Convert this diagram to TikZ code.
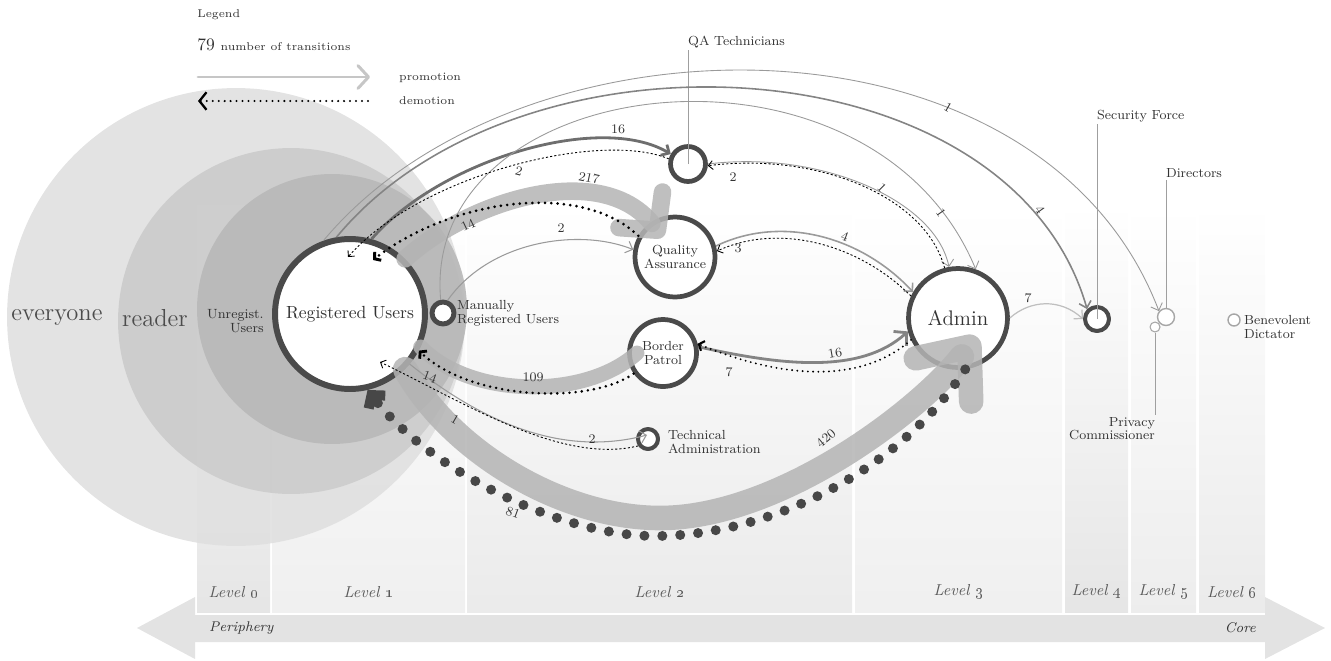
\documentclass[tikz,border=0pt]{standalone}
\usepackage{tikz}
\usetikzlibrary{arrows.meta,calc}
\definecolor{ringc}{HTML}{4A4A4A}
\definecolor{txtc}{HTML}{333333}
\definecolor{bandc}{HTML}{B4B4B4}
\definecolor{promc}{HTML}{9A9A9A}
\definecolor{promd}{HTML}{6E6E6E}
\definecolor{dotc}{HTML}{474747}
\tikzset{
  every picture/.style={line join=round},
  ring/.style={circle, draw=ringc, fill=white, line width=2.7pt, inner sep=0pt, align=center, text=txtc, font=\fontsize{7.5}{7.5}\selectfont},
  pin/.style={circle, draw=gray!70, fill=white, line width=0.8pt, inner sep=0pt},
  lbl/.style={text=txtc, inner sep=1pt, font=\fontsize{7.5}{8}\selectfont},
  num/.style={text=txtc, inner sep=1pt, font=\fontsize{7.5}{7.5}\selectfont},
  lvl/.style={text=black!65, font=\itshape\fontsize{9}{9}\selectfont},
  callout/.style={draw=gray!75, line width=0.5pt},
  promo/.style={draw=promc, line width=0.6pt, -{Straight Barb[length=3.5pt,width=7pt]}},
  demo/.style={draw=black, line width=0.5pt, dash pattern=on 1.2pt off 1.2pt, -{Straight Barb[length=2.5pt,width=5pt]}},
  dotline/.style={draw=black, line cap=round, dash pattern=on 0pt off #1, -{Straight Barb[length=2.5pt,width=6pt]}},
  band/.style={draw=bandc, draw opacity=0.85, line cap=round}
}
\begin{document}
\begin{tikzpicture}[x=0.02cm, y=-0.02cm]
    \useasboundingbox (0,0) rectangle (1331,660);
    \foreach \lv/\xa/\xb/\sh in {0/197/270/10, 1/272/465/6, 2/467/852/8, 3/855/1062/6, 4/1065/1128/10, 5/1131/1196/7, 6/1199/1265/8} {
      \shade[top color=white, bottom color=black!\sh] (\xa,205) rectangle (\xb,612);
      \node[lvl] (lv\lv) at ({(\xa+\xb)/2},592) {Level \oldstylenums{\lv}};
    }
    \fill[black!11] (137,628) -- (195,597) -- (195,615) -- (1265,615) -- (1265,597) -- (1325,628)
      -- (1265,659) -- (1265,642) -- (195,642) -- (195,659) -- cycle;
    \node[text=txtc, anchor=west, font=\itshape\fontsize{8}{8}\selectfont] (peri) at (203,628) {Periphery};
    \node[text=txtc, anchor=east, font=\itshape\fontsize{8}{8}\selectfont] (core) at (1262,628) {Core};

    \fill[black!12, fill opacity=0.9] (236,317) circle[radius=4.58cm];
    \fill[black!20, fill opacity=0.9] (291,321) circle[radius=3.46cm];
    \fill[black!28, fill opacity=0.9] (332,309) circle[radius=2.7cm];
    \node[text=black!70, font=\fontsize{14}{14}\selectfont] (everyone) at (57,318) {everyone};
    \node[text=black!70, font=\fontsize{14}{14}\selectfont] (reader) at (155,318) {reader};
    \node[text=txtc, anchor=east, align=right, inner sep=0pt, font=\fontsize{7.6}{7.6}\selectfont] (unreg) at (264,321) {Unregist.\\Users};

    % groups
    \node[ring, minimum size=3cm, line width=3.4pt, font=\fontsize{10}{10}\selectfont] (RU) at (350,314) {Registered Users};
    \node[ring, minimum size=0.44cm, line width=2.8pt] (MRU) at (443,313) {};
    \node[ring, minimum size=0.7cm] (QAT) at (688,164) {};
    \node[ring, minimum size=1.6cm] (QA) at (675,257) {Quality\\Assurance};
    \node[ring, minimum size=1.34cm] (BP) at (663,353) {Border\\Patrol};
    \node[ring, minimum size=0.4cm, line width=2.3pt] (TA) at (648,439) {};
    \node[ring, minimum size=1.98cm, font=\fontsize{12}{12}\selectfont] (Admin) at (958,318) {Admin};
    \node[ring, minimum size=0.48cm, line width=2.3pt] (SF) at (1097,319) {};
    \node[pin, minimum size=0.34cm] (DIR) at (1166,317) {};
    \node[pin, minimum size=0.2cm, line width=0.6pt] (PC) at (1155,327) {};
    \node[pin, minimum size=0.24cm] (BD) at (1234,320) {};

    \node[lbl, anchor=west, align=left] (MRUl) at (455,313) {Manually\\Registered Users};
    \node[lbl, anchor=west, align=left] (TAl) at (666,442) {Technical\\Administration};
    \node[lbl, anchor=north west, align=left] (BDl) at (1242,313) {Benevolent\\Dictator};
    \node[lbl, anchor=south west] (QATl) at (686,50) {QA Technicians};
    \node[lbl, anchor=south west] (SFl) at (1095,124) {Security Force};
    \node[lbl, anchor=south west] (DIRl) at (1164,180) {Directors};
    \node[lbl, anchor=north east, align=right, font=\fontsize{7.5}{6.5}\selectfont] (PCl) at (1157,415) {Privacy\\Commissioner};
    \draw[callout] (QAT.center) -- (QAT.center |- QATl.south);
    \draw[callout] (SF.center) -- (SF.center |- SFl.south);
    \draw[callout] (DIR.north) -- (DIR.north |- DIRl.south);
    \draw[callout] (PC.south) -- (PC.south |- PCl.north);

    % wide bands
    \draw[band, line width=14pt, -{Straight Barb[length=24pt,width=40pt,round]}] (RU.-45) .. controls (450,450) and (560,518) .. (660,518)
      .. controls (780,518) and (920,410) .. ($(Admin)+(19,19)$);
    \draw[band, line width=10pt, -{Straight Barb[length=15pt,width=32pt,round]}] (RU.45) .. controls (470,200) and (600,160) .. ($(QA)+(-12,-20)$);
    \draw[band, line width=8.5pt] (RU.-25) .. controls (470,398) and (585,400) .. ($(BP)+(-26,0)$);

    % promotions
    \draw[promo, draw=promd, line width=1.6pt] (RU.74) .. controls (440,160) and (600,112) .. (QAT.150);
    \draw[promo, line width=0.5pt] (RU.110) .. controls (520,5) and (1040,0) .. (DIR.140);
    \draw[promo, draw=promd!85, line width=0.9pt] (RU.100) .. controls (520,15) and (1010,40) .. (SF.135);
    \draw[promo, line width=0.5pt] (MRU.100) .. controls (420,70) and (870,15) .. (Admin.70);
    \draw[promo] (MRU.70) .. controls (490,240) and (580,228) .. (QA.170);
    \draw[promo, line width=0.5pt] (QAT.0) .. controls (820,150) and (935,200) .. (Admin.100);
    \draw[promo, line width=0.9pt] (QA.15) .. controls (780,215) and (860,235) .. (Admin.150);
    \draw[promo, draw=gray!50, line width=0.7pt] (Admin.0) .. controls (1030,300) and (1060,298) .. (SF.180);
    \draw[promo, draw=promd!85, line width=1.6pt, -{Straight Barb[length=5pt,width=11pt]}] (BP.10) .. controls (780,365) and (860,375) .. (Admin.195);
    \draw[promo] (RU.-40) .. controls (480,420) and (560,458) .. ($(TA)+(-1,-4)$);

    % demotions
    \draw[demo] (QAT.165) .. controls (600,130) and (420,175) .. ($(RU)+(-2,-57)$);
    \draw[dotline=3.6pt, line width=1.7pt] (QA.150) .. controls (580,180) and (450,200) .. ($(RU)+(23,-54)$);
    \draw[demo] (Admin.105) .. controls (925,195) and (815,152) .. (QAT.-5);
    \draw[demo] (Admin.155) .. controls (860,245) and (780,222) .. (QA.8);
    \draw[dotline=3pt, line width=1.2pt] (Admin.205) .. controls (860,385) and (780,378) .. (BP.15);
    \draw[dotline=3.5pt, line width=1.6pt] (BP.215) .. controls (590,405) and (470,400) .. (RU.-28);
    \draw[demo] (TA.215) .. controls (560,465) and (460,400) .. ($(RU)+(30,48)$);
    \draw[dotline=10.2pt, draw=dotc, line width=5.7pt, -{Straight Barb[length=5pt,width=12pt]}] (Admin.-82) .. controls (900,470) and (770,536) .. (655,536)
      .. controls (560,536) and (430,470) .. (RU.-77);

    % counts
    \node[num] (c16a) at (618,129) {16};
    \node[num, rotate=-15] (c2a) at (519,171) {2};
    \node[num, rotate=-12] (c217) at (589,178) {217};
    \node[num, rotate=25] (c14a) at (468,225) {14};
    \node[num] (c2b) at (561,228) {2};
    \node[num] (c2c) at (733,177) {2};
    \node[num, rotate=-45] (c1a) at (882,188) {1};
    \node[num, rotate=-55] (c1b) at (941,213) {1};
    \node[num, rotate=-55] (c4a) at (1040,210) {4};
    \node[num, rotate=-30] (c1c) at (948,107) {1};
    \node[num, rotate=-20] (c4b) at (845,237) {4};
    \node[num] (c3) at (738,248) {3};
    \node[num] (c7a) at (1028,298) {7};
    \node[num, rotate=10] (c16b) at (835,353) {16};
    \node[num] (c7b) at (729,372) {7};
    \node[num] (c109) at (533,377) {109};
    \node[num, rotate=-20] (c14b) at (430,377) {14};
    \node[num, rotate=-30] (c1d) at (455,419) {1};
    \node[num] (c2d) at (592,439) {2};
    \node[num, rotate=40] (c420) at (826,438) {420};
    \node[num, rotate=-20] (c81) at (513,513) {81};

    % legend
    \node[text=txtc, anchor=west, inner sep=0pt, font=\fontsize{6.4}{7}\selectfont] (legend) at (197,15) {Legend};
    \node[text=txtc, anchor=base west, inner sep=0pt, font=\fontsize{10}{10}\selectfont] (n79) at (197,50) {79};
    \node[text=txtc, anchor=base west, inner sep=0pt, font=\fontsize{6.4}{7}\selectfont] (ntr) at ($(n79.base east)+(5,0)$) {number of transitions};
    \coordinate (promA) at (198,77);
    \coordinate (promB) at (370,77);
    \coordinate (demA) at (368,101);
    \coordinate (demB) at (198,101);
    \draw[draw=gray!45, line width=1.7pt, line cap=round, -{Straight Barb[length=6pt,width=13pt,round]}] (promA) -- (promB);
    \draw[dotline=3.4pt, line width=1.3pt, -{Straight Barb[length=4pt,width=10pt]}] (demA) -- (demB);
    \node[text=txtc, anchor=west, font=\fontsize{6.4}{7}\selectfont] (prom) at (393,78) {promotion};
    \node[text=txtc, anchor=west, font=\fontsize{6.4}{7}\selectfont] (dem) at (393,101) {demotion};
\end{tikzpicture}
\end{document}
